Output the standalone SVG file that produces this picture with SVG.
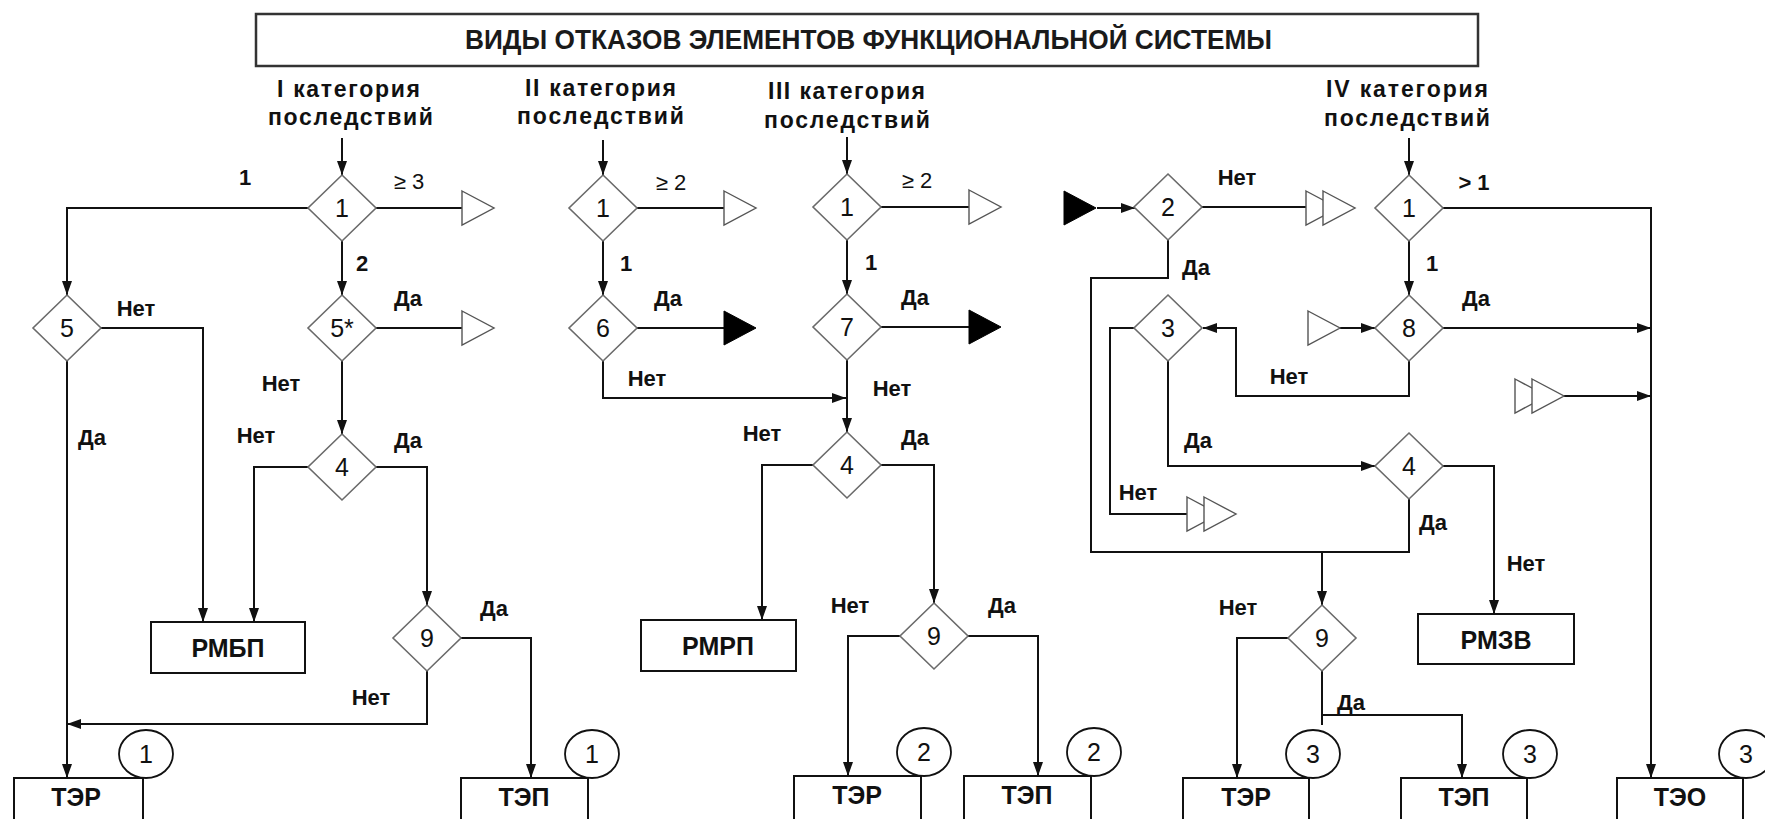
<svg xmlns="http://www.w3.org/2000/svg" xmlns:xlink="http://www.w3.org/1999/xlink" width="1765" height="819" viewBox="0 0 1765 819">
<style>
text{font-family:"Liberation Sans",Arial,sans-serif;fill:#111;}
.title{font-size:27px;font-weight:bold;fill:#1a1a1a;}
.cat{font-size:23px;font-weight:bold;}
.lbl{font-size:22px;font-weight:bold;}
.lblr{font-size:22px;font-weight:normal;}
.num{font-size:25px;font-weight:normal;text-anchor:middle;}
.box{fill:#fff;stroke:#111;stroke-width:2;}
.boxt{font-size:25px;font-weight:bold;text-anchor:middle;}
.dia{fill:#fff;stroke:#6a6a6a;stroke-width:1.6;}
.hol{fill:#fff;stroke:#555;stroke-width:1.4;}
.fil{fill:#000;stroke:#000;stroke-width:1;}
.ell{fill:#fff;stroke:#111;stroke-width:1.8;}
.c{fill:none;stroke:#111;stroke-width:2;}
.a{marker-end:url(#ah);}
</style>
<defs>
<marker id="ah" markerWidth="14" markerHeight="10" refX="14" refY="5" orient="auto" markerUnits="userSpaceOnUse"><path d="M0,0 L14,5 L0,10 z" fill="#111"/></marker>
<polygon id="dia" points="0,-33 34,0 0,33 -34,0"/>
<polygon id="tri" points="0,-17 32,0 0,17"/>
</defs>
<rect width="1765" height="819" fill="#fff"/>

<g id="title">
<rect x="256" y="14" width="1222" height="52" fill="#fff" stroke="#333" stroke-width="2.5"/>
<text class="title" x="465" y="49" textLength="807" lengthAdjust="spacingAndGlyphs">ВИДЫ ОТКАЗОВ ЭЛЕМЕНТОВ ФУНКЦИОНАЛЬНОЙ СИСТЕМЫ</text>
</g>

<g id="cat-labels">
<text class="cat" x="277" y="97" textLength="143" lengthAdjust="spacing">I категория</text>
<text class="cat" x="268" y="125" textLength="165" lengthAdjust="spacing">последствий</text>
<text class="cat" x="525" y="96" textLength="151" lengthAdjust="spacing">II категория</text>
<text class="cat" x="517" y="124" textLength="167" lengthAdjust="spacing">последствий</text>
<text class="cat" x="768" y="99" textLength="157" lengthAdjust="spacing">III категория</text>
<text class="cat" x="764" y="128" textLength="166" lengthAdjust="spacing">последствий</text>
<text class="cat" x="1326" y="97" textLength="162" lengthAdjust="spacing">IV категория</text>
<text class="cat" x="1324" y="126" textLength="166" lengthAdjust="spacing">последствий</text>
</g>

<g id="connectors">
<!-- category I -->
<path class="c a" d="M342,138 L342,175"/>
<path class="c a" d="M308,208 L67,208 L67,295"/>
<path class="c" d="M376,208 L462,208"/>
<path class="c a" d="M342,241 L342,295"/>
<path class="c" d="M376,328 L462,328"/>
<path class="c a" d="M100,328 L203,328 L203,622"/>
<path class="c a" d="M342,361 L342,434"/>
<path class="c a" d="M308,467 L254,467 L254,622"/>
<path class="c a" d="M376,467 L427,467 L427,605"/>
<path class="c a" d="M461,638 L531,638 L531,778"/>
<path class="c a" d="M427,671 L427,724 L67,724"/>
<path class="c a" d="M67,361 L67,778"/>
<!-- category II -->
<path class="c a" d="M603,140 L603,175"/>
<path class="c" d="M637,208 L724,208"/>
<path class="c a" d="M603,241 L603,295"/>
<path class="c" d="M637,328 L724,328"/>
<path class="c a" d="M603,361 L603,398 L846,398"/>
<!-- category III -->
<path class="c a" d="M847,137 L847,174"/>
<path class="c" d="M881,207 L969,207"/>
<path class="c a" d="M847,240 L847,294"/>
<path class="c" d="M881,327 L969,327"/>
<path class="c a" d="M847,360 L847,432"/>
<path class="c a" d="M813,465 L762,465 L762,620"/>
<path class="c a" d="M881,465 L934,465 L934,603"/>
<path class="c a" d="M900,636 L848,636 L848,776"/>
<path class="c a" d="M968,636 L1038,636 L1038,776"/>
<!-- category IV -->
<path class="c a" d="M1097,208 L1135,208"/>
<path class="c" d="M1202,207 L1306,207"/>
<path class="c" d="M1168,240 L1168,278 L1091,278 L1091,552 L1409,552 L1409,499"/>
<path class="c a" d="M1322,552 L1322,605"/>
<path class="c" d="M1134,328 L1110,328 L1110,514 L1187,514"/>
<path class="c a" d="M1168,361 L1168,466 L1375,466"/>
<path class="c a" d="M1443,466 L1494,466 L1494,614"/>
<path class="c a" d="M1288,638 L1237,638 L1237,778"/>
<path class="c" d="M1322,671 L1322,725"/>
<path class="c a" d="M1322,715 L1462,715 L1462,778"/>
<path class="c a" d="M1409,138 L1409,175"/>
<path class="c a" d="M1443,208 L1651,208 L1651,778"/>
<path class="c a" d="M1409,241 L1409,295"/>
<path class="c a" d="M1443,328 L1651,328"/>
<path class="c a" d="M1340,328 L1375,328"/>
<path class="c a" d="M1409,361 L1409,396 L1236,396 L1236,328 L1203,328"/>
<path class="c a" d="M1564,396 L1651,396"/>
</g>

<g id="connector-labels">
<text class="lbl" x="245" y="185" text-anchor="middle">1</text>
<text class="lblr" x="409" y="189" text-anchor="middle">≥ 3</text>
<text class="lbl" x="362" y="271" text-anchor="middle">2</text>
<text class="lbl" x="408" y="306" text-anchor="middle">Да</text>
<text class="lbl" x="136" y="316" text-anchor="middle">Нет</text>
<text class="lbl" x="281" y="391" text-anchor="middle">Нет</text>
<text class="lbl" x="92" y="445" text-anchor="middle">Да</text>
<text class="lbl" x="256" y="443" text-anchor="middle">Нет</text>
<text class="lbl" x="408" y="448" text-anchor="middle">Да</text>
<text class="lbl" x="494" y="616" text-anchor="middle">Да</text>
<text class="lbl" x="371" y="705" text-anchor="middle">Нет</text>

<text class="lblr" x="671" y="190" text-anchor="middle">≥ 2</text>
<text class="lbl" x="626" y="271" text-anchor="middle">1</text>
<text class="lbl" x="668" y="306" text-anchor="middle">Да</text>
<text class="lbl" x="647" y="386" text-anchor="middle">Нет</text>

<text class="lblr" x="917" y="188" text-anchor="middle">≥ 2</text>
<text class="lbl" x="871" y="270" text-anchor="middle">1</text>
<text class="lbl" x="915" y="305" text-anchor="middle">Да</text>
<text class="lbl" x="892" y="396" text-anchor="middle">Нет</text>
<text class="lbl" x="762" y="441" text-anchor="middle">Нет</text>
<text class="lbl" x="915" y="445" text-anchor="middle">Да</text>
<text class="lbl" x="850" y="613" text-anchor="middle">Нет</text>
<text class="lbl" x="1002" y="613" text-anchor="middle">Да</text>

<text class="lbl" x="1237" y="185" text-anchor="middle">Нет</text>
<text class="lbl" x="1196" y="275" text-anchor="middle">Да</text>
<text class="lbl" x="1474" y="190" text-anchor="middle">&gt; 1</text>
<text class="lbl" x="1432" y="271" text-anchor="middle">1</text>
<text class="lbl" x="1476" y="306" text-anchor="middle">Да</text>
<text class="lbl" x="1289" y="384" text-anchor="middle">Нет</text>
<text class="lbl" x="1198" y="448" text-anchor="middle">Да</text>
<text class="lbl" x="1138" y="500" text-anchor="middle">Нет</text>
<text class="lbl" x="1433" y="530" text-anchor="middle">Да</text>
<text class="lbl" x="1526" y="571" text-anchor="middle">Нет</text>
<text class="lbl" x="1238" y="615" text-anchor="middle">Нет</text>
<text class="lbl" x="1351" y="710" text-anchor="middle">Да</text>
</g>

<!-- category I nodes -->
<g id="I-d1"><use href="#dia" class="dia" x="342" y="208"/><text class="num" x="342" y="217">1</text></g>
<g id="I-t1"><use href="#tri" class="hol" x="462" y="208"/></g>
<g id="I-d5s"><use href="#dia" class="dia" x="342" y="328"/><text class="num" x="342" y="337">5*</text></g>
<g id="I-t2"><use href="#tri" class="hol" x="462" y="328"/></g>
<g id="I-d5"><use href="#dia" class="dia" x="67" y="328"/><text class="num" x="67" y="337">5</text></g>
<g id="I-d4"><use href="#dia" class="dia" x="342" y="467"/><text class="num" x="342" y="476">4</text></g>
<g id="I-d9"><use href="#dia" class="dia" x="427" y="638"/><text class="num" x="427" y="647">9</text></g>
<g id="I-rmbp"><rect class="box" x="151" y="622" width="154" height="51"/><text class="boxt" x="228" y="657">РМБП</text></g>
<g id="I-ter"><rect class="box" x="14" y="778" width="129" height="60"/><text class="boxt" x="76" y="806">ТЭР</text><ellipse class="ell" cx="146" cy="754" rx="27" ry="24"/><text class="num" x="146" y="763">1</text></g>
<g id="I-tep"><rect class="box" x="461" y="778" width="127" height="60"/><text class="boxt" x="524" y="806">ТЭП</text><ellipse class="ell" cx="592" cy="754" rx="27" ry="24"/><text class="num" x="592" y="763">1</text></g>

<!-- category II nodes -->
<g id="II-d1"><use href="#dia" class="dia" x="603" y="208"/><text class="num" x="603" y="217">1</text></g>
<g id="II-t1"><use href="#tri" class="hol" x="724" y="208"/></g>
<g id="II-d6"><use href="#dia" class="dia" x="603" y="328"/><text class="num" x="603" y="337">6</text></g>
<g id="II-t2"><use href="#tri" class="fil" x="724" y="328"/></g>

<!-- category III nodes -->
<g id="III-d1"><use href="#dia" class="dia" x="847" y="207"/><text class="num" x="847" y="216">1</text></g>
<g id="III-t1"><use href="#tri" class="hol" x="969" y="207"/></g>
<g id="III-d7"><use href="#dia" class="dia" x="847" y="327"/><text class="num" x="847" y="336">7</text></g>
<g id="III-t2"><use href="#tri" class="fil" x="969" y="327"/></g>
<g id="III-d4"><use href="#dia" class="dia" x="847" y="465"/><text class="num" x="847" y="474">4</text></g>
<g id="III-d9"><use href="#dia" class="dia" x="934" y="636"/><text class="num" x="934" y="645">9</text></g>
<g id="III-rmrp"><rect class="box" x="641" y="620" width="155" height="51"/><text class="boxt" x="718" y="655">РМРП</text></g>
<g id="III-ter"><rect class="box" x="794" y="776" width="127" height="60"/><text class="boxt" x="857" y="804">ТЭР</text><ellipse class="ell" cx="924" cy="752" rx="27" ry="24"/><text class="num" x="924" y="761">2</text></g>
<g id="III-tep"><rect class="box" x="964" y="776" width="127" height="60"/><text class="boxt" x="1027" y="804">ТЭП</text><ellipse class="ell" cx="1094" cy="752" rx="27" ry="24"/><text class="num" x="1094" y="761">2</text></g>

<!-- category IV nodes -->
<g id="IV-tin"><use href="#tri" class="fil" x="1064" y="208"/></g>
<g id="IV-d2"><use href="#dia" class="dia" x="1168" y="207"/><text class="num" x="1168" y="216">2</text></g>
<g id="IV-tt1"><use href="#tri" class="hol" x="1306" y="208"/><use href="#tri" class="hol" x="1323" y="208"/></g>
<g id="IV-d3"><use href="#dia" class="dia" x="1168" y="328"/><text class="num" x="1168" y="337">3</text></g>
<g id="IV-tt2"><use href="#tri" class="hol" x="1187" y="514"/><use href="#tri" class="hol" x="1204" y="514"/></g>
<g id="IV-d1"><use href="#dia" class="dia" x="1409" y="208"/><text class="num" x="1409" y="217">1</text></g>
<g id="IV-t8"><use href="#tri" class="hol" x="1308" y="328"/></g>
<g id="IV-d8"><use href="#dia" class="dia" x="1409" y="328"/><text class="num" x="1409" y="337">8</text></g>
<g id="IV-tt3"><use href="#tri" class="hol" x="1515" y="396"/><use href="#tri" class="hol" x="1532" y="396"/></g>
<g id="IV-d4"><use href="#dia" class="dia" x="1409" y="466"/><text class="num" x="1409" y="475">4</text></g>
<g id="IV-d9"><use href="#dia" class="dia" x="1322" y="638"/><text class="num" x="1322" y="647">9</text></g>
<g id="IV-rmzv"><rect class="box" x="1418" y="614" width="156" height="50"/><text class="boxt" x="1496" y="649">РМЗВ</text></g>
<g id="IV-ter"><rect class="box" x="1183" y="778" width="126" height="60"/><text class="boxt" x="1246" y="806">ТЭР</text><ellipse class="ell" cx="1313" cy="754" rx="27" ry="24"/><text class="num" x="1313" y="763">3</text></g>
<g id="IV-tep"><rect class="box" x="1401" y="778" width="126" height="60"/><text class="boxt" x="1464" y="806">ТЭП</text><ellipse class="ell" cx="1530" cy="754" rx="27" ry="24"/><text class="num" x="1530" y="763">3</text></g>
<g id="IV-teo"><rect class="box" x="1617" y="778" width="126" height="60"/><text class="boxt" x="1680" y="806">ТЭО</text><ellipse class="ell" cx="1746" cy="754" rx="27" ry="24"/><text class="num" x="1746" y="763">3</text></g>
</svg>
